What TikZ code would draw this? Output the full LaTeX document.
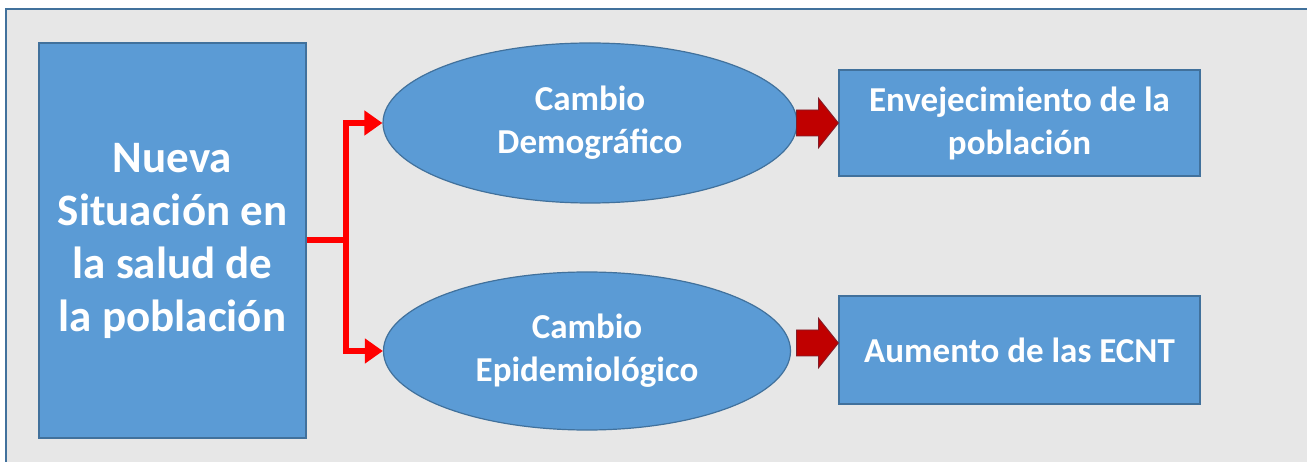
\documentclass[tikz,border=0pt]{standalone}
\usepackage{fontspec}
\setmainfont{Carlito}
\usepackage{tikz}
\usetikzlibrary{arrows.meta,shapes.geometric,calc}
\definecolor{boxblue}{HTML}{5B9BD5}
\definecolor{boxline}{HTML}{41719C}
\definecolor{bggray}{HTML}{E7E7E7}
\definecolor{arrred}{HTML}{C00000}
\definecolor{arrline}{HTML}{7F1F2A}
\tikzset{
  bluebox/.style={draw=boxline,line width=1.2pt,fill=boxblue,text=white,align=center,inner sep=0pt},
  bluerect/.style={bluebox,rectangle},
  blueoval/.style={bluebox,ellipse},
  bigtext/.style={font=\fontsize{45}{53}\selectfont\bfseries},
  midtext/.style={font=\fontsize{35}{43}\selectfont\bfseries},
  redline/.style={draw=red,line width=6pt},
  redarrow/.style={redline,-{Triangle[length=18pt,width=24pt]}},
  blockarrow/.style={fill=arrred,draw=arrline,line width=0.8pt,line join=miter}
}
\begin{document}
\begin{tikzpicture}[x=1pt,y=-1pt]
      \useasboundingbox (0,0) rectangle (1307,462);
      \clip (0,0) rectangle (1307,462);
      \draw[boxline,line width=2pt,fill=bggray] (6,9) rectangle (1330,490);

      \node[bluerect,bigtext,minimum width=267pt,minimum height=395pt] (sit) at (172.5,240.5) {Nueva\\Situación en\\la salud de\\la población};

      \node[blueoval,midtext,minimum width=414pt,minimum height=160pt] (dem) at (590,123) {Cambio\\Demográfico};
      \node[blueoval,midtext,minimum width=407pt,minimum height=158pt] (epi) at (587,351) {Cambio\\Epidemiológico};

      \node[bluerect,midtext,minimum width=361pt,minimum height=106pt] (env) at (1019.5,123) {Envejecimiento de la\\población};
      \node[bluerect,midtext,minimum width=361pt,minimum height=108pt] (ecnt) at (1019.5,350) {Aumento de las ECNT};

      \draw[redline] (sit.east) -- ++(39,0) coordinate (split);
      \draw[redarrow] (split) |- (dem.west);
      \draw[redarrow] (split) |- (epi.west);

      \coordinate (tipa) at (env.west);
      \coordinate (tipb) at ($(ecnt.west)+(0,-7)$);
      \draw[blockarrow] (tipa) -- ++(-20,-25) -- ++(0,12) -- ++(-22,0) -- ++(0,26) -- ++(22,0) -- ++(0,12) -- cycle;
      \draw[blockarrow] (tipb) -- ++(-20,-25) -- ++(0,12) -- ++(-22,0) -- ++(0,26) -- ++(22,0) -- ++(0,12) -- cycle;
    \end{tikzpicture}
\end{document}
